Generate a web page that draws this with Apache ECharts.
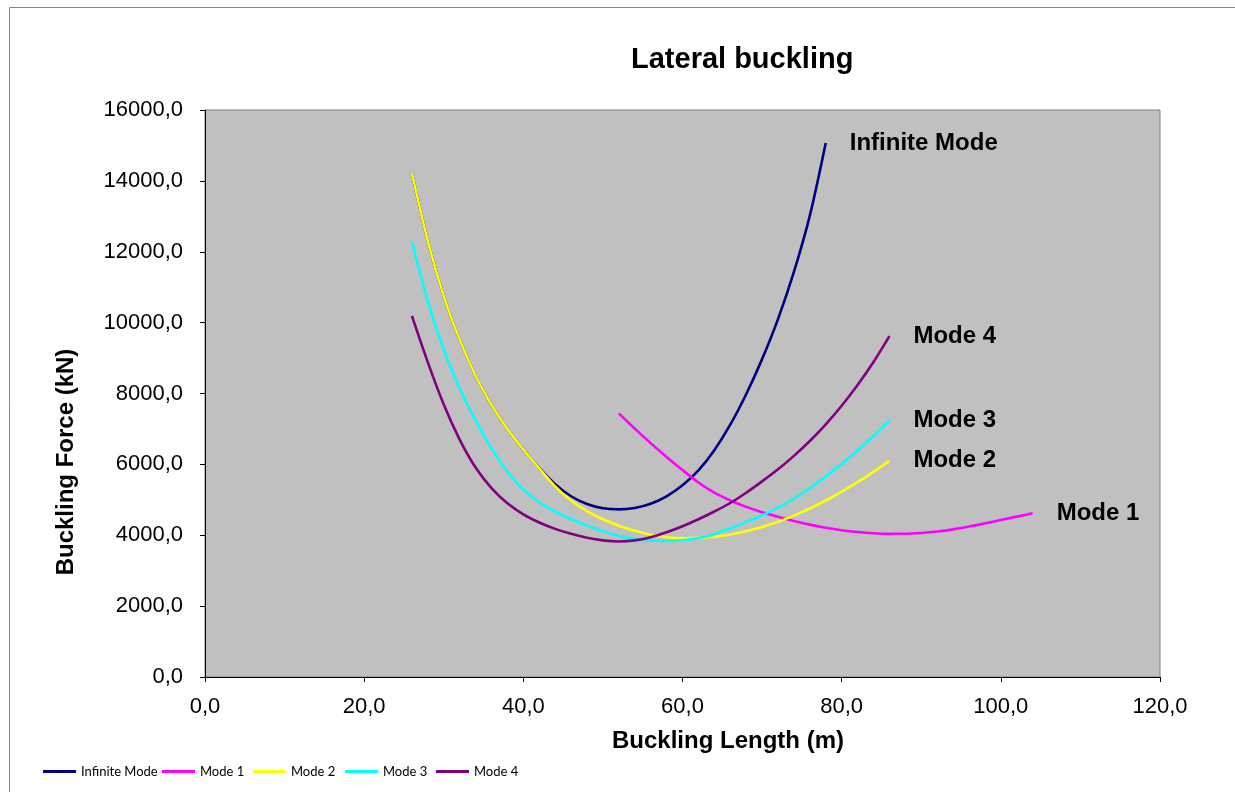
<!DOCTYPE html>
<html>
<head>
<meta charset="utf-8">
<title>Lateral buckling</title>
<script src="https://cdn.jsdelivr.net/npm/echarts@6/dist/echarts.min.js"></script>
<style>
  html, body { margin: 0; padding: 0; background: #fff; }
  #chart { width: 1235px; height: 792px; }
</style>
</head>
<body>
<div id="chart"></div>
<script>
// buckling lengths (m)
const lenInfinite = [26, 28, 30, 32, 34, 36, 38, 40, 42, 44, 46, 48, 50, 52, 54, 56, 58, 60, 62, 64, 66, 68, 70, 72, 74, 76, 78]
const lenMode1 = [52, 54, 56, 58, 60, 62, 64, 66, 68, 70, 72, 74, 76, 78, 80, 82, 84, 86, 88, 90, 92, 94, 96, 98, 100, 102, 104]
const lenModes = [26, 28, 30, 32, 34, 36, 38, 40, 42, 44, 46, 48, 50, 52, 54, 56, 58, 60, 62, 64, 66, 68, 70, 72, 74, 76, 78, 80, 82, 84, 86]

// buckling force (kN)
const forceInfinite = [14220, 12300, 10750, 9520, 8500, 7680, 7000, 6420, 5900, 5440, 5100, 4880, 4760, 4730, 4770, 4890, 5100, 5410, 5830, 6400, 7120, 7980, 8970, 10100, 11430, 13020, 15070]
const forceMode1 = [7440, 7010, 6600, 6210, 5840, 5490, 5200, 4980, 4800, 4650, 4520, 4405, 4300, 4210, 4140, 4090, 4055, 4040, 4042, 4065, 4105, 4165, 4245, 4335, 4430, 4525, 4620]
const forceMode2 = [14220, 12300, 10750, 9520, 8500, 7680, 7000, 6420, 5890, 5380, 4980, 4680, 4450, 4270, 4125, 4015, 3945, 3915, 3925, 3960, 4020, 4110, 4230, 4380, 4555, 4755, 4980, 5230, 5500, 5790, 6100]
const forceMode3 = [12290, 10600, 9240, 8150, 7240, 6450, 5790, 5290, 4930, 4670, 4460, 4275, 4110, 3980, 3900, 3855, 3840, 3860, 3920, 4030, 4190, 4370, 4565, 4780, 5030, 5330, 5660, 6010, 6390, 6800, 7250]
const forceMode4 = [10190, 8880, 7690, 6700, 5910, 5330, 4900, 4590, 4360, 4180, 4040, 3930, 3855, 3825, 3855, 3945, 4085, 4255, 4450, 4670, 4910, 5200, 5520, 5860, 6240, 6660, 7130, 7655, 8240, 8890, 9620]

const seriesNames = ['Infinite Mode', 'Mode 1', 'Mode 2', 'Mode 3', 'Mode 4']
const seriesColors = ['#000080', '#ff00ff', '#ffff00', '#00ffff', '#800080']
// left edge of each legend entry
const legendLeft = [43, 162, 253, 345, 436]

const pairs = (xs, ys) => xs.map((x, i) => [x, ys[i]])
const seriesData = [
  pairs(lenInfinite, forceInfinite),
  pairs(lenMode1, forceMode1),
  pairs(lenModes, forceMode2),
  pairs(lenModes, forceMode3),
  pairs(lenModes, forceMode4)
]

const comma = (v) => v.toFixed(1).replace('.', ',')
const FONT = '"Liberation Sans", Arial, sans-serif'

const myChart = echarts.init(document.getElementById('chart'))

const option = {
  animation: false,
  title: {
    text: 'Lateral buckling',
    left: 626,
    top: 40,
    textStyle: { fontFamily: FONT, fontSize: 29, fontWeight: 'bold', color: '#000' }
  },
  // one legend per entry so each sits where the original put it
  legend: seriesNames.map((name, i) => ({
    data: [name],
    left: legendLeft[i],
    top: 765,
    padding: 0,
    icon: 'rect',
    itemWidth: 33,
    itemHeight: 3,
    textStyle: { fontFamily: 'Lato, sans-serif', fontSize: 13, color: '#000' }
  })),
  grid: {
    left: 205, right: 75, top: 110, bottom: 115,
    show: true,
    backgroundColor: '#c0c0c0',
    borderColor: '#808080',
    borderWidth: 1
  },
  xAxis: {
    type: 'value',
    min: 0, max: 120, interval: 20,
    axisLine: { onZero: false, lineStyle: { color: '#000', width: 1 } },
    axisTick: { show: true, inside: false, length: 5, lineStyle: { color: '#000' } },
    splitLine: { show: false },
    axisLabel: { margin: 19, formatter: comma, fontFamily: FONT, fontSize: 22, color: '#000' }
  },
  yAxis: {
    type: 'value',
    min: 0, max: 16000, interval: 2000,
    axisLine: { show: true, onZero: false, lineStyle: { color: '#000', width: 1 } },
    axisTick: { show: true, inside: false, length: 5, lineStyle: { color: '#000' } },
    splitLine: { show: false },
    axisLabel: { margin: 22, formatter: comma, fontFamily: FONT, fontSize: 22, color: '#000' }
  },
  graphic: [
    {
      type: 'rect',
      shape: { x: 9.5, y: 7.5, width: 1300, height: 900 },
      style: { fill: 'none', stroke: '#868686', lineWidth: 1 },
      silent: true
    },
    {
      type: 'text',
      x: 728, y: 741,
      style: {
        text: 'Buckling Length (m)',
        font: 'bold 24px ' + FONT,
        fill: '#000',
        textAlign: 'center',
        textVerticalAlign: 'middle'
      }
    },
    {
      type: 'text',
      x: 66, y: 462,
      rotation: Math.PI / 2,
      style: {
        text: 'Buckling Force (kN)',
        font: 'bold 24px ' + FONT,
        fill: '#000',
        textAlign: 'center',
        textVerticalAlign: 'middle'
      }
    }
  ],
  series: seriesNames.map((name, i) => ({
    name,
    type: 'line',
    data: seriesData[i],
    smooth: 0.3,
    symbol: 'none',
    lineStyle: { color: seriesColors[i], width: 2.6 },
    itemStyle: { color: seriesColors[i] },
    endLabel: {
      show: true,
      formatter: '{a}',
      distance: 24,
      fontFamily: FONT,
      fontSize: 24,
      fontWeight: 'bold',
      color: '#000'
    }
  }))
}

myChart.setOption(option)
window.addEventListener('resize', () => myChart.resize())
</script>
</body>
</html>
